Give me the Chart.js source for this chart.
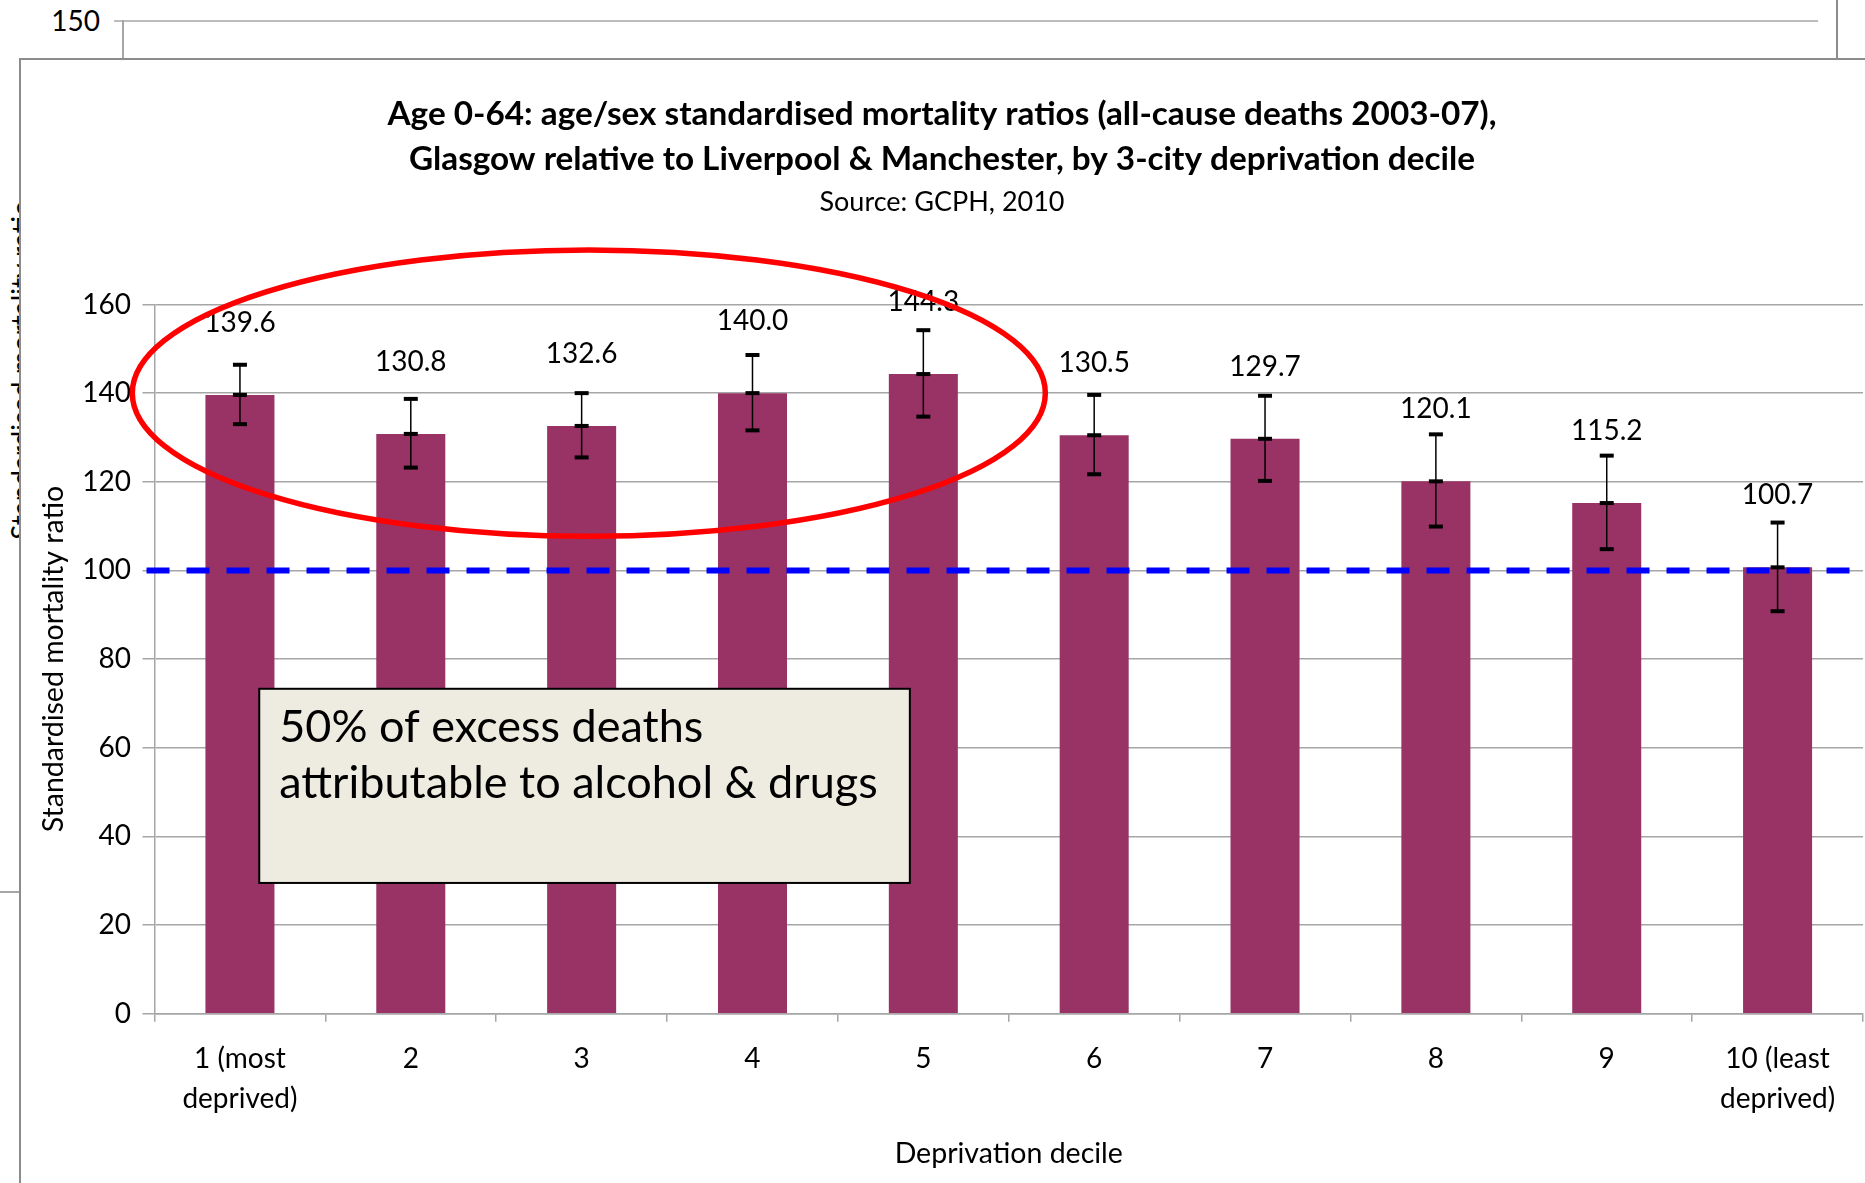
<!DOCTYPE html>
<html>
<head>
<meta charset="utf-8">
<title>Age 0-64 SMR, Glasgow relative to Liverpool &amp; Manchester</title>
<script src="https://cdn.jsdelivr.net/npm/chart.js@4.4.1/dist/chart.umd.min.js"></script>
<style>
  body { margin: 0; background: #fff; font-family: Lato, sans-serif; color: #000; }
  #page { position: relative; width: 1865px; height: 1183px; overflow: hidden; background: #fff; }
  .bg { position: absolute; }
  #box {
    position: absolute; left: 19px; top: 58px; width: 1846px; height: 1125px;
    border-left: 2px solid #8c8c8c; border-top: 2px solid #8c8c8c; background: #fff;
  }
  #box canvas { display: block; }
</style>
</head>
<body>
<div id="page">
  <!-- pieces of the chart sitting behind this one -->
  <div class="bg" style="left:0; top:6px; width:100px; text-align:right; font-size:28px; line-height:28px;">150</div>
  <div class="bg" style="left:114px; top:20px; width:1704px; height:2px; background:#bdbdbd;"></div>
  <div class="bg" style="left:122px; top:20px; width:2px; height:40px; background:#a6a6a6;"></div>
  <div class="bg" style="left:1836px; top:0; width:2px; height:59px; background:#8c8c8c;"></div>
  <div class="bg" style="left:0; top:891px; width:20px; height:2px; background:#a6a6a6;"></div>
  <div class="bg" style="left:-179px; top:354px; width:400px; height:32px; line-height:32px; font-size:28px; text-align:center; transform:rotate(-90deg);">Standardised mortality ratio</div>

  <div id="box"><canvas id="chart" width="1844" height="1123"></canvas></div>
</div>

<script>
// Deprivation deciles (x axis)
const deciles = [['1 (most', 'deprived)'], '2', '3', '4', '5', '6', '7', '8', '9', ['10 (least', 'deprived)']];

// Standardised mortality ratios, Glasgow vs Liverpool & Manchester
const smr = [139.6, 130.8, 132.6, 140.0, 144.3, 130.5, 129.7, 120.1, 115.2, 100.7];

// 95% confidence limits
const ciUpper = [146.4, 138.7, 140.0, 148.6, 154.2, 139.6, 139.4, 130.7, 125.9, 110.8];
const ciLower = [133.0, 123.2, 125.5, 131.6, 134.7, 121.7, 120.2, 109.9, 104.8, 90.8];

// y axis
const yTicks = [0, 20, 40, 60, 80, 100, 120, 140, 160];
const referenceLevel = 100;

const titleLines = [
  'Age 0-64: age/sex standardised mortality ratios (all-cause deaths 2003-07),',
  'Glasgow relative to Liverpool & Manchester, by 3-city deprivation decile'
];
const noteLines = ['50% of excess deaths', 'attributable to alcohol & drugs'];

const gridGrey = '#a6a6a6';

// reference line, error bars, labels, ellipse and text box
const overlays = {
  id: 'overlays',
  afterDatasetsDraw(chart, args, opts) {
    const ctx = chart.ctx;
    const xs = chart.scales.x;
    const ys = chart.scales.y;
    const area = chart.chartArea;
    const bars = chart.getDatasetMeta(0).data;

    // dashed line at 100
    const y100 = ys.getPixelForValue(referenceLevel);
    ctx.save();
    ctx.strokeStyle = '#0000ff';
    ctx.lineWidth = 6;
    ctx.setLineDash([23, 17]);
    ctx.beginPath();
    ctx.moveTo(area.left - 8, y100);
    ctx.lineTo(chart.width, y100);
    ctx.stroke();
    ctx.restore();

    // error bars, capped at both limits and at the value
    ctx.save();
    ctx.strokeStyle = '#000';
    bars.forEach((bar, i) => {
      const top = ys.getPixelForValue(ciUpper[i]);
      const mid = ys.getPixelForValue(smr[i]);
      const bottom = ys.getPixelForValue(ciLower[i]);
      ctx.lineWidth = 1.5;
      ctx.beginPath();
      ctx.moveTo(bar.x, top);
      ctx.lineTo(bar.x, bottom);
      ctx.stroke();
      ctx.lineWidth = 4;
      [top, mid, bottom].forEach((py) => {
        ctx.beginPath();
        ctx.moveTo(bar.x - 7, py);
        ctx.lineTo(bar.x + 7, py);
        ctx.stroke();
      });
    });

    // value labels
    ctx.fillStyle = '#000';
    ctx.font = '28px Lato';
    ctx.textAlign = 'center';
    ctx.textBaseline = 'middle';
    bars.forEach((bar, i) => {
      ctx.fillText(smr[i].toFixed(1), bar.x, bar.y - opts.labelGap);
    });
    ctx.restore();

    // red ellipse round deciles 1-5
    const step = xs.getPixelForValue(1) - xs.getPixelForValue(0);
    const e = opts.ellipse;
    ctx.save();
    ctx.strokeStyle = '#ff0000';
    ctx.lineWidth = 5.5;
    ctx.beginPath();
    ctx.ellipse(
      xs.getPixelForValue(e.x), ys.getPixelForValue(e.y),
      e.rx * step, ys.getPixelForValue(0) - ys.getPixelForValue(e.ry),
      0, 0, Math.PI * 2
    );
    ctx.stroke();
    ctx.restore();

    // text box
    const b = opts.note;
    const left = xs.getPixelForValue(b.x0);
    const right = xs.getPixelForValue(b.x1);
    const top = ys.getPixelForValue(b.y1);
    const bottom = ys.getPixelForValue(b.y0);
    ctx.save();
    ctx.fillStyle = '#eeece1';
    ctx.fillRect(left, top, right - left, bottom - top);
    ctx.strokeStyle = '#000';
    ctx.lineWidth = 2;
    ctx.strokeRect(left, top, right - left, bottom - top);
    ctx.fillStyle = '#000';
    ctx.font = '45px Lato';
    ctx.textAlign = 'left';
    ctx.textBaseline = 'alphabetic';
    noteLines.forEach((line, i) => {
      ctx.fillText(line, left + 20, top + 53 + i * 56.7);
    });
    ctx.restore();
  }
};

Chart.defaults.font.family = 'Lato';
Chart.defaults.color = '#000';

const draw = () => {
  const ctx = document.getElementById('chart').getContext('2d');
  new Chart(ctx, {
    type: 'bar',
    data: {
      labels: deciles,
      datasets: [
        {
          label: 'SMR',
          data: smr,
          backgroundColor: '#993366',
          borderWidth: 0,
          categoryPercentage: 1,
          barPercentage: 0.404,
        },
      ],
    },
    options: {
      responsive: false,
      animation: false,
      layout: {
        padding: { left: 0, right: 2, top: 0, bottom: 11.9 },
      },
      plugins: {
        legend: { display: false },
        tooltip: { enabled: false },
        title: {
          display: true,
          text: titleLines,
          font: { size: 33.3, weight: 'bold', lineHeight: 1.363 },
          padding: { top: 31.3, bottom: 0 },
        },
        subtitle: {
          display: true,
          text: 'Source: GCPH, 2010',
          font: { size: 27, lineHeight: 1.2 },
          padding: { top: 3.7, bottom: 86.3 },
        },
        overlays: {
          labelGap: 72,
          ellipse: { x: 2.042, y: 140, rx: 2.672, ry: 32.3 },
          note: { x0: 0.113, x1: 3.921, y0: 29.5, y1: 73.3 },
        },
      },
      scales: {
        x: {
          grid: {
            drawOnChartArea: false,
            tickLength: 8,
            color: gridGrey,
            lineWidth: 1.5,
          },
          border: { color: gridGrey, width: 1.5 },
          ticks: {
            font: { size: 28, lineHeight: 1.4286 },
            padding: 17.6,
            maxRotation: 0,
            autoSkip: false,
          },
          title: {
            display: true,
            text: 'Deprivation decile',
            font: { size: 28.5, lineHeight: 1.2 },
            padding: { top: 0, bottom: 0 },
          },
        },
        y: {
          min: 0,
          max: 160,
          afterBuildTicks: (scale) => {
            scale.ticks = yTicks.map((v) => ({ value: v }));
          },
          grid: { color: gridGrey, lineWidth: 1.5, tickLength: 12 },
          border: { color: gridGrey, width: 1.5 },
          ticks: {
            font: { size: 28 },
            padding: 11.6,
          },
          title: {
            display: true,
            text: 'Standardised mortality ratio',
            font: { size: 28.5, lineHeight: 1.2 },
            padding: { top: 15.4, bottom: 0 },
          },
        },
      },
    },
    plugins: [overlays],
  });
};

Promise.all([
  document.fonts.load('28px Lato'),
  document.fonts.load('bold 33px Lato'),
]).then(draw).catch(draw);
</script>
</body>
</html>
